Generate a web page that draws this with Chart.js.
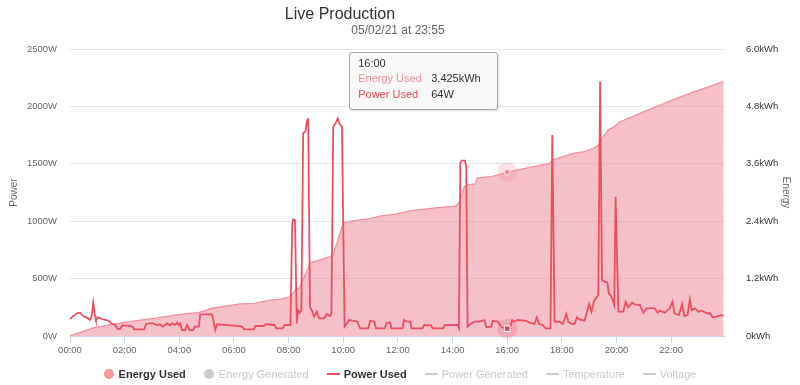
<!DOCTYPE html>
<html>
<head>
<meta charset="utf-8">
<script src="https://cdn.jsdelivr.net/npm/chart.js@4.4.0/dist/chart.umd.min.js"></script>
<style>
    html, body { margin: 0; padding: 0; background: #fff; }
    #wrap { position: relative; width: 800px; height: 385px; font-family: 'Liberation Sans', Arial, sans-serif; }
    #title { position: absolute; left: 240px; width: 200px; top: 4px; text-align: center; font-size: 16px; line-height: 20px; color: #333; }
    #subtitle { position: absolute; left: 298px; width: 200px; top: 22px; text-align: center; font-size: 12px; line-height: 16px; color: #666; }
    #legend { position: absolute; left: 0; width: 800px; top: 367px; display: flex; justify-content: center; font-size: 11px; line-height: 14px; }
    .item { display: flex; align-items: center; margin-right: 18px; }
    .item:last-child { margin-right: 0; }
    .dot { width: 10px; height: 10px; border-radius: 50%; margin-right: 5px; }
    .dash { width: 13px; height: 2px; margin-right: 4px; }
    #tip { position: absolute; display: none; box-sizing: border-box; width: 149px; background: rgba(247,247,247,0.9);
           border: 1px solid #a8a8a8; border-radius: 3px; box-shadow: 1px 1px 2px rgba(0,0,0,0.12);
           padding: 4px 8px 7px 8px; font-size: 11px; color: #333; }
    #tip .tt-title { line-height: 13px; }
    #tip .tt-row { line-height: 16px; white-space: nowrap; }
    #tip .tt-name { display: inline-block; width: 73px; }
</style>
</head>
<body>
<div id="wrap">
    <canvas id="liveChart" width="800" height="385"></canvas>
    <div id="title">Live Production</div>
    <div id="subtitle">05/02/21 at 23:55</div>
    <div id="legend"></div>
    <div id="tip"></div>
</div>
<script>
// minutes since midnight
const powerTimes = [0, 8, 15, 22, 29, 40, 44, 48, 51, 55, 57, 62, 70, 81, 88, 92, 99, 105, 110, 115,
    125, 136, 141, 163, 167, 176, 183, 191, 198, 203, 209, 213, 220, 224, 231, 235, 238, 242, 246, 253,
    257, 263, 270, 274, 283, 286, 312, 316, 319, 323, 360, 378, 382, 404, 407, 426, 429, 449, 453, 467,
    471, 484, 488, 490, 494, 498, 500, 504, 508, 512, 517, 521, 523, 527, 532, 536, 542, 547, 558, 564,
    571, 574, 578, 583, 588, 593, 597, 603, 613, 620, 631, 637, 655, 659, 668, 672, 691, 696, 703, 706,
    730, 733, 740, 747, 750, 774, 778, 793, 796, 820, 823, 851, 854, 857, 860, 867, 870, 873, 881, 888,
    899, 910, 914, 925, 928, 939, 947, 954, 960, 966, 971, 976, 983, 1002, 1009, 1020, 1025, 1030, 1038, 1044,
    1055, 1059, 1064, 1075, 1082, 1090, 1094, 1101, 1108, 1113, 1119, 1130, 1140, 1145, 1150, 1157, 1160, 1164, 1168, 1174,
    1180, 1183, 1189, 1195, 1198, 1204, 1215, 1220, 1226, 1234, 1240, 1251, 1259, 1266, 1277, 1284, 1290, 1295, 1306, 1317,
    1323, 1327, 1337, 1344, 1349, 1356, 1361, 1365, 1372, 1380, 1387, 1398, 1405, 1411, 1420, 1431, 1435];
const powerValues = [148, 175, 198, 203, 174, 154, 139, 180, 290, 170, 139, 163, 148, 139, 125, 105, 96, 61, 61, 93,
    90, 87, 58, 58, 105, 110, 110, 96, 102, 81, 96, 110, 93, 110, 96, 116, 96, 110, 52, 52,
    96, 52, 52, 81, 81, 189, 189, 110, 52, 102, 90, 81, 58, 58, 87, 87, 102, 96, 67, 67,
    96, 96, 982, 1017, 1010, 110, 226, 198, 226, 1766, 1780, 1882, 1888, 255, 212, 168, 212, 154, 154, 192,
    174, 198, 1823, 1853, 1896, 1838, 1829, 81, 139, 133, 125, 67, 67, 133, 125, 67, 67, 116, 116, 67,
    67, 139, 125, 125, 67, 67, 96, 93, 67, 67, 96, 96, 67, 1504, 1527, 1527, 1475, 81, 110, 125,
    125, 139, 76, 81, 133, 125, 81, 67, 64, 67, 139, 125, 139, 131, 116, 105, 163, 105, 96, 67,
    67, 1751, 125, 125, 105, 192, 125, 105, 105, 163, 145, 133, 279, 212, 299, 342, 357, 2215, 488, 473,
    464, 372, 342, 270, 1213, 212, 212, 299, 250, 290, 276, 270, 203, 241, 241, 241, 203, 221, 203, 241,
    299, 198, 183, 279, 174, 183, 320, 226, 241, 212, 221, 198, 198, 163, 168, 183, 174];

const energyTimes = [0, 51, 95, 139, 198, 242, 282, 312, 374, 404, 440, 462, 484, 495, 503, 528, 572, 578, 600, 617,
    661, 683, 716, 749, 793, 848, 855, 866, 872, 890, 894, 910, 925, 940, 960, 1002, 1053, 1061, 1086, 1105,
    1127, 1149, 1160, 1171, 1182, 1196, 1205, 1218, 1255, 1292, 1328, 1365, 1402, 1435];
const energyValues = [0, 0.17, 0.25, 0.31, 0.39, 0.45, 0.49, 0.58, 0.67, 0.68, 0.75, 0.77, 0.82, 0.96, 1.00, 1.53, 1.66, 1.70, 2.36, 2.40,
    2.46, 2.51, 2.55, 2.62, 2.67, 2.72, 2.81, 3.12, 3.16, 3.18, 3.30, 3.32, 3.33, 3.37, 3.425, 3.51, 3.61, 3.69, 3.76, 3.82,
    3.85, 3.92, 3.99, 4.17, 4.31, 4.38, 4.47, 4.52, 4.67, 4.81, 4.95, 5.09, 5.21, 5.32];

const xTickValues = [0, 120, 240, 360, 480, 600, 720, 840, 960, 1080, 1200, 1320];
const xTickLabels = ['00:00', '02:00', '04:00', '06:00', '08:00', '10:00', '12:00', '14:00', '16:00', '18:00', '20:00', '22:00'];
const powerTickValues = [0, 500, 1000, 1500, 2000, 2500];
const powerTickLabels = ['0W', '500W', '1000W', '1500W', '2000W', '2500W'];
const energyTickValues = [0, 1.2, 2.4, 3.6, 4.8, 6.0];
const energyTickLabels = ['0kWh', '1.2kWh', '2.4kWh', '3.6kWh', '4.8kWh', '6.0kWh'];

const tooltipTime = 960;

const FONT = "'Liberation Sans', Arial, sans-serif";
Chart.defaults.font.family = FONT;

function toPoints(times, values) {
    return times.map((t, i) => ({ x: t, y: values[i] }));
}

function hhmm(mins) {
    const h = Math.floor(mins / 60), m = Math.round(mins % 60);
    return String(h).padStart(2, '0') + ':' + String(m).padStart(2, '0');
}

const haloPlugin = {
    id: 'halo',
    beforeDatasetDraw(chart, args) {
        const ds = chart.data.datasets[args.index];
        const active = chart.getActiveElements().filter(a => a.datasetIndex === args.index);
        if (!active.length || !ds.haloColor) return;
        const ctx = chart.ctx;
        ctx.save();
        ctx.fillStyle = ds.haloColor;
        active.forEach(a => {
            ctx.beginPath();
            ctx.arc(a.element.x, a.element.y, 10, 0, Math.PI * 2);
            ctx.fill();
        });
        ctx.restore();
    }
};

function externalTip({ chart, tooltip }) {
    const el = document.getElementById('tip');
    if (tooltip.opacity === 0 || !tooltip.dataPoints || !tooltip.dataPoints.length) {
        el.style.display = 'none';
        return;
    }
    let html = '<div class="tt-title">' + hhmm(tooltip.dataPoints[0].parsed.x) + '</div>';
    tooltip.dataPoints
        .slice()
        .sort((a, b) => a.datasetIndex - b.datasetIndex)
        .forEach(dp => {
            const ds = dp.dataset;
            const val = ds.yAxisID === 'y1' ? dp.parsed.y.toFixed(3) + 'kWh' : Math.round(dp.parsed.y) + 'W';
            html += '<div class="tt-row"><span class="tt-name" style="color:' + ds.tipColor + '">' +
                ds.label + '</span><span>' + val + '</span></div>';
        });
    el.innerHTML = html;
    el.style.display = 'block';
    el.style.left = (tooltip.caretX - 158) + 'px';
    el.style.top = (chart.chartArea.top + 3) + 'px';
}

function buildLegend(chart) {
    const box = document.getElementById('legend');
    box.innerHTML = '';
    chart.data.datasets.forEach(ds => {
        const item = document.createElement('div');
        item.className = 'item';
        const mark = document.createElement('span');
        mark.className = ds.legendStyle === 'circle' ? 'dot' : 'dash';
        mark.style.background = ds.hidden ? '#cccccc' : ds.legendColor;
        const txt = document.createElement('span');
        txt.textContent = ds.label;
        txt.style.color = ds.hidden ? '#c8c8c8' : '#333';
        txt.style.fontWeight = ds.hidden ? 'normal' : 'bold';
        item.appendChild(mark);
        item.appendChild(txt);
        box.appendChild(item);
    });
}

const ctx = document.getElementById('liveChart').getContext('2d');
const chart = new Chart(ctx, {
    type: 'line',
    data: {
        datasets: [{
            label: 'Energy Used',
            data: toPoints(energyTimes, energyValues),
            yAxisID: 'y1',
            order: 2,
            borderColor: '#f291a0',
            backgroundColor: 'rgba(238,130,148,0.5)',
            borderWidth: 1.3,
            fill: 'origin',
            tension: 0,
            pointRadius: 0,
            pointStyle: 'circle',
            pointHoverRadius: 3,
            pointHoverBackgroundColor: '#f291a0',
            pointHoverBorderColor: '#fde3e7',
            pointHoverBorderWidth: 1,
            haloColor: 'rgba(242,145,160,0.28)',
            legendStyle: 'circle',
            legendColor: '#f2959f',
            tipColor: '#f08d9c'
        }, {
            label: 'Energy Generated',
            data: [],
            hidden: true,
            legendStyle: 'circle'
        }, {
            label: 'Power Used',
            data: toPoints(powerTimes, powerValues),
            yAxisID: 'y',
            order: 1,
            borderColor: '#eb5062',
            borderWidth: 1.8,
            fill: false,
            tension: 0,
            pointRadius: 0,
            pointStyle: 'rect',
            pointHoverRadius: 4,
            pointHoverBackgroundColor: '#e8495b',
            pointHoverBorderColor: '#ffffff',
            pointHoverBorderWidth: 1,
            haloColor: 'rgba(235,80,98,0.22)',
            legendStyle: 'line',
            legendColor: '#eb5062',
            tipColor: '#e8495b'
        }, {
            label: 'Power Generated',
            data: [],
            hidden: true,
            legendStyle: 'line'
        }, {
            label: 'Temperature',
            data: [],
            hidden: true,
            legendStyle: 'line'
        }, {
            label: 'Voltage',
            data: [],
            hidden: true,
            legendStyle: 'line'
        }]
    },
    options: {
        responsive: false,
        animation: false,
        events: [],
        layout: { padding: { top: 49, bottom: 25, left: 0, right: 0 } },
        plugins: {
            legend: { display: false },
            title: { display: false },
            tooltip: { enabled: false, external: externalTip, position: 'average' }
        },
        scales: {
            x: {
                type: 'linear',
                min: 0,
                max: 1436,
                afterBuildTicks: s => { s.ticks = xTickValues.map(v => ({ value: v })); },
                afterFit: s => { s.height = 24; },
                ticks: {
                    callback: (v, i) => xTickLabels[i],
                    color: '#666',
                    font: { size: 9.5 },
                    padding: 2,
                    maxRotation: 0,
                    autoSkip: false
                },
                grid: { drawOnChartArea: false, drawTicks: true, tickLength: 7, color: '#ccd6eb' },
                border: { display: true, color: '#ccd6eb', width: 1 }
            },
            y: {
                position: 'left',
                min: 0,
                max: 2500,
                afterBuildTicks: s => { s.ticks = powerTickValues.map(v => ({ value: v })); },
                afterFit: s => { s.width = 70; },
                ticks: {
                    callback: (v, i) => powerTickLabels[i],
                    color: '#666',
                    font: { size: 9.5 },
                    padding: 13
                },
                grid: { color: '#e6e6e6', drawTicks: false },
                border: { display: false },
                title: { display: true, text: 'Power', color: '#666', font: { size: 10 }, padding: { top: 8, bottom: 0 } }
            },
            y1: {
                position: 'right',
                min: 0,
                max: 6,
                afterBuildTicks: s => { s.ticks = energyTickValues.map(v => ({ value: v })); },
                afterFit: s => { s.width = 76; },
                ticks: {
                    callback: (v, i) => energyTickLabels[i],
                    color: '#333',
                    font: { size: 9.5 },
                    padding: 14
                },
                grid: { display: false },
                border: { display: false },
                title: { display: true, text: 'Energy', color: '#666', font: { size: 10 }, padding: { top: 8, bottom: 0 } }
            }
        }
    },
    plugins: [haloPlugin]
});

buildLegend(chart);

const active = [
    { datasetIndex: 0, index: energyTimes.indexOf(tooltipTime) },
    { datasetIndex: 2, index: powerTimes.indexOf(tooltipTime) }
];
chart.setActiveElements(active);
chart.tooltip.setActiveElements(active, { x: 0, y: 0 });
chart.update();
</script>
</body>
</html>
